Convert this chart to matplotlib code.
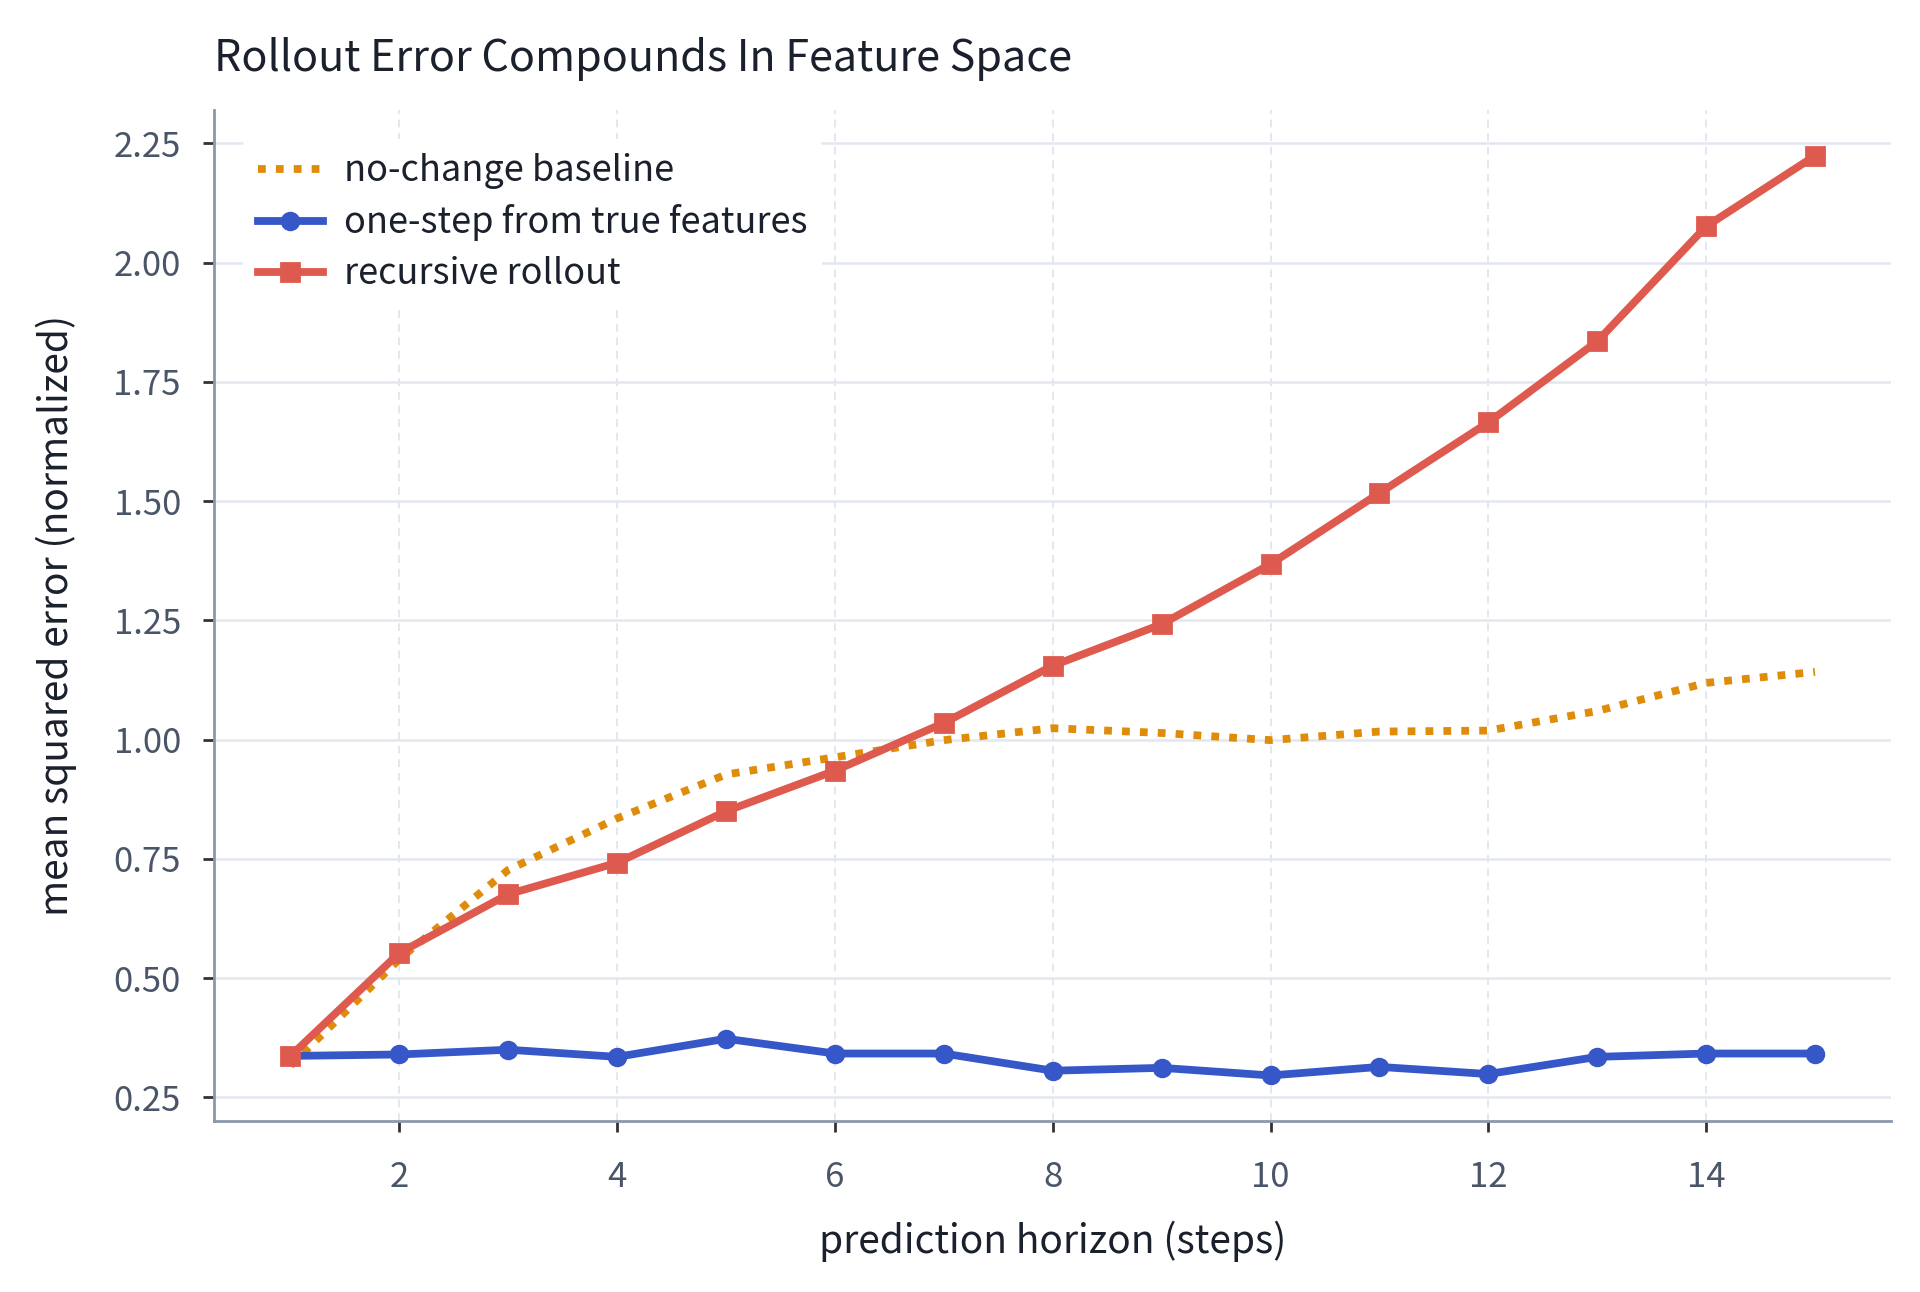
import matplotlib
matplotlib.use("Agg")
import matplotlib.pyplot as plt

plt.rcParams['font.family'] = ['Noto Sans CJK JP', 'DejaVu Sans']

horizon = list(range(1, 16))
baseline = [0.317, 0.54, 0.727, 0.835, 0.927, 0.963, 0.999, 1.024, 1.014, 0.999, 1.017, 1.019, 1.06, 1.119, 1.142]
one_step = [0.337, 0.340, 0.350, 0.335, 0.373, 0.342, 0.342, 0.306, 0.312, 0.296, 0.314, 0.299, 0.335, 0.342, 0.342]
recursive = [0.337, 0.553, 0.676, 0.742, 0.850, 0.935, 1.035, 1.155, 1.242, 1.368, 1.517, 1.665, 1.835, 2.076, 2.224]
yticks = [0.25, 0.50, 0.75, 1.00, 1.25, 1.50, 1.75, 2.00, 2.25]

fig = plt.figure(figsize=(9.6, 6.46), dpi=200)
ax = fig.add_axes([0.1116, 0.132, 0.8734, 0.783])

ax.plot(horizon, baseline, color='#E08C0B', lw=2.8, ls=(0, (1, 1.3)), label='no-change baseline', zorder=3)
ax.plot(horizon, one_step, color='#3657C8', lw=2.8, marker='o', ms=6, label='one-step from true features', zorder=4)
ax.plot(horizon, recursive, color='#DE5A4E', lw=2.8, marker='s', ms=6.5, label='recursive rollout', zorder=5)

ax.set_yticks(yticks)
ax.set_yticklabels([f"{v:.2f}" for v in yticks])
ax.set_xticks([2, 4, 6, 8, 10, 12, 14])
ax.grid(axis='y', color='#E3E7EE', lw=0.9, ls='-')
ax.grid(axis='x', color='#E3E7EE', lw=0.7, ls=(0, (4, 3)))
ax.set_axisbelow(True)

for s in ['top', 'right']:
    ax.spines[s].set_visible(False)
for s in ['left', 'bottom']:
    ax.spines[s].set_color('#8C97AB')
    ax.spines[s].set_linewidth(1.0)
ax.tick_params(axis='both', labelcolor='#4A5568', labelsize=12.5, length=4, width=1.0, color='#333333')
ax.tick_params(axis='x', pad=10)
ax.tick_params(axis='y', pad=8)

ax.set_xlabel('prediction horizon (steps)', fontsize=14, color='#1A202C', labelpad=9)
ax.set_ylabel('mean squared error (normalized)', fontsize=14, color='#1A202C', labelpad=13)
ax.set_title('Rollout Error Compounds In Feature Space', fontsize=15.5, color='#1A202C', loc='left', pad=14)

leg = ax.legend(loc='upper left', frameon=True, fontsize=13, handlelength=1.8,
                borderaxespad=0.8, labelspacing=0.42, handletextpad=0.6)
leg.get_frame().set_facecolor('white')
leg.get_frame().set_edgecolor('none')
leg.get_frame().set_alpha(1.0)
for t in leg.get_texts():
    t.set_color('#1A202C')

fig.savefig('out.png', dpi=200, facecolor='white')
